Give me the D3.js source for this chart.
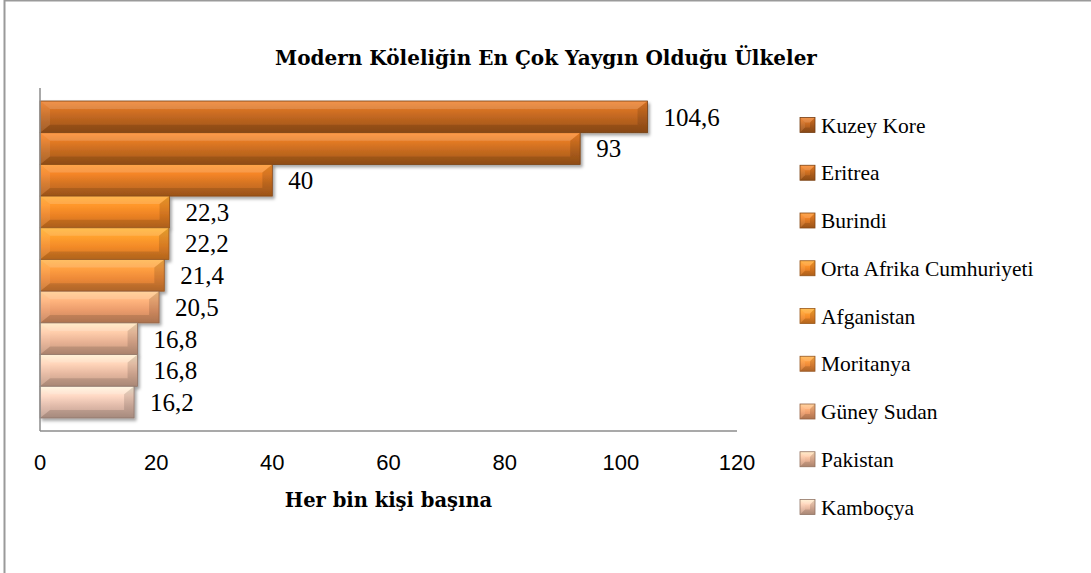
<!DOCTYPE html>
<html>
<head>
<meta charset="utf-8">
<script src="https://cdn.jsdelivr.net/npm/d3@7"></script>
<style>
  body { margin: 0; background: #fff; }
  svg { display: block; }
</style>
</head>
<body>
<svg width="1091" height="573"></svg>
<script>
// values (per 1000 people)
var countries = ["Kuzey Kore", "Eritrea", "Burindi", "Orta Afrika Cumhuriyeti", "Afganistan",
                 "Moritanya", "Güney Sudan", "Pakistan", "Kamboçya", "İran"];
var values = [104.6, 93, 40, 22.3, 22.2, 21.4, 20.5, 16.8, 16.8, 16.2];
var xTicks = [0, 20, 40, 60, 80, 100, 120];
var legendNames = countries.slice(0, 9); // the original legend only lists nine
var barColors = ["#b8621f", "#c3691f", "#d47322", "#ec8224", "#f38a28",
                 "#ee8a38", "#eb9c6c", "#e8b294", "#e6b8a0", "#e2bcab"];

var svg = d3.select("svg"),
    width = +svg.attr("width"),
    height = +svg.attr("height");

var plot = {left: 40, right: 737, top: 88, bottom: 431};

// outer frame (cropped on the right / bottom)
svg.append("rect")
  .attr("x", 4.5).attr("y", 0.5)
  .attr("width", width + 20).attr("height", height + 20)
  .attr("fill", "none").attr("stroke", "#9a9a9a").attr("stroke-width", 2);

var x = d3.scaleLinear().domain([0, 120]).range([plot.left, plot.right]);
var y = d3.scaleBand().domain(countries).range([plot.top, plot.bottom])
  .paddingInner(0).paddingOuter(0.41);

var defs = svg.append("defs");
var shadow = defs.append("filter").attr("id", "shadow")
  .attr("x", "-10%").attr("y", "-20%").attr("width", "130%").attr("height", "160%");
shadow.append("feDropShadow").attr("dx", 2).attr("dy", 2.5).attr("stdDeviation", 1.6)
  .attr("flood-color", "#000").attr("flood-opacity", 0.35);

barColors.forEach(function(c, i) {
  var base = d3.color(c);
  var g = defs.append("linearGradient").attr("id", "grad" + i)
    .attr("x1", 0).attr("y1", 0).attr("x2", 0).attr("y2", 1);
  g.append("stop").attr("offset", "0%").attr("stop-color", base.brighter(0.75).formatHex());
  g.append("stop").attr("offset", "30%").attr("stop-color", base.brighter(0.4).formatHex());
  g.append("stop").attr("offset", "60%").attr("stop-color", c);
  g.append("stop").attr("offset", "100%").attr("stop-color", base.darker(0.5).formatHex());
});

function bevel(sel, x0, y0, x1, y1, c, i, bw, bh) {
  var b = Math.min(bw, (x1 - x0) / 2), t = Math.min(bh, (y1 - y0) / 2);
  var faces = [
    {pts: [[x0, y0], [x1, y0], [x1 - b, y0 + t], [x0 + b, y0 + t]], fill: "#fff", op: 0.15},
    {pts: [[x0, y1], [x1, y1], [x1 - b, y1 - t], [x0 + b, y1 - t]], fill: "#000", op: 0.12},
    {pts: [[x0, y0], [x0 + b, y0 + t], [x0 + b, y1 - t], [x0, y1]], fill: "#fff", op: 0.08},
    {pts: [[x1, y0], [x1 - b, y0 + t], [x1 - b, y1 - t], [x1, y1]], fill: "#000", op: 0.12}
  ];
  sel.append("rect").attr("x", x0).attr("y", y0)
    .attr("width", x1 - x0).attr("height", y1 - y0)
    .attr("fill", "url(#grad" + i + ")");
  faces.forEach(function(f) {
    sel.append("polygon").attr("points", f.pts.map(function(p) { return p.join(","); }).join(" "))
      .attr("fill", f.fill).attr("fill-opacity", f.op);
  });
  sel.append("rect").attr("x", x0).attr("y", y0)
    .attr("width", x1 - x0).attr("height", y1 - y0)
    .attr("fill", "none").attr("stroke", d3.color(c).darker(1.3).formatHex()).attr("stroke-width", 0.8);
}

// bars
var bars = svg.append("g");
countries.forEach(function(name, i) {
  var g = bars.append("g").attr("filter", "url(#shadow)");
  bevel(g, x(0), y(name), x(values[i]), y(name) + y.bandwidth(), barColors[i], i, 10, 8);
});

// axes lines
svg.append("line").attr("x1", plot.left).attr("x2", plot.left)
  .attr("y1", plot.top).attr("y2", plot.bottom)
  .attr("stroke", "#8c8c8c").attr("stroke-width", 1.5);
svg.append("line").attr("x1", plot.left).attr("x2", plot.right)
  .attr("y1", plot.bottom).attr("y2", plot.bottom)
  .attr("stroke", "#8c8c8c").attr("stroke-width", 1.5);

// value labels
svg.append("g").selectAll("text")
  .data(values)
  .enter().append("text")
  .attr("x", function(d) { return x(d) + 16; })
  .attr("y", function(d, i) { return y(countries[i]) + y.bandwidth() / 2; })
  .attr("dy", "0.35em")
  .style("font-family", "'Liberation Serif', serif")
  .style("font-size", "25px")
  .text(function(d) { return String(d).replace(".", ","); });

// x tick labels
svg.append("g").selectAll("text")
  .data(xTicks)
  .enter().append("text")
  .attr("x", function(d) { return x(d); })
  .attr("y", 462)
  .attr("dy", "0.35em")
  .attr("text-anchor", "middle")
  .style("font-family", "'Liberation Sans', Arial, sans-serif")
  .style("font-size", "22px")
  .text(function(d) { return d; });

// titles
svg.append("text")
  .attr("x", 546).attr("y", 58).attr("dy", "0.35em")
  .attr("text-anchor", "middle")
  .style("font-family", "'DejaVu Serif', serif")
  .style("font-weight", "bold")
  .style("font-size", "20px")
  .text("Modern Köleliğin En Çok Yaygın Olduğu Ülkeler");

svg.append("text")
  .attr("x", (plot.left + plot.right) / 2).attr("y", 500).attr("dy", "0.35em")
  .attr("text-anchor", "middle")
  .style("font-family", "'DejaVu Serif', serif")
  .style("font-weight", "bold")
  .style("font-size", "19.5px")
  .text("Her bin kişi başına");

// legend
var ly = d3.scalePoint().domain(legendNames).range([125, 507]);
var legend = svg.append("g");
legendNames.forEach(function(name, i) {
  var cy = ly(name);
  var g = legend.append("g");
  bevel(g, 800, cy - 7.5, 815, cy + 7.5, barColors[i], i, 5, 5);
  legend.append("text")
    .attr("x", 821).attr("y", cy).attr("dy", "0.35em")
    .style("font-family", "'Liberation Serif', serif")
    .style("font-size", "21.5px")
    .text(name);
});
</script>
</body>
</html>
